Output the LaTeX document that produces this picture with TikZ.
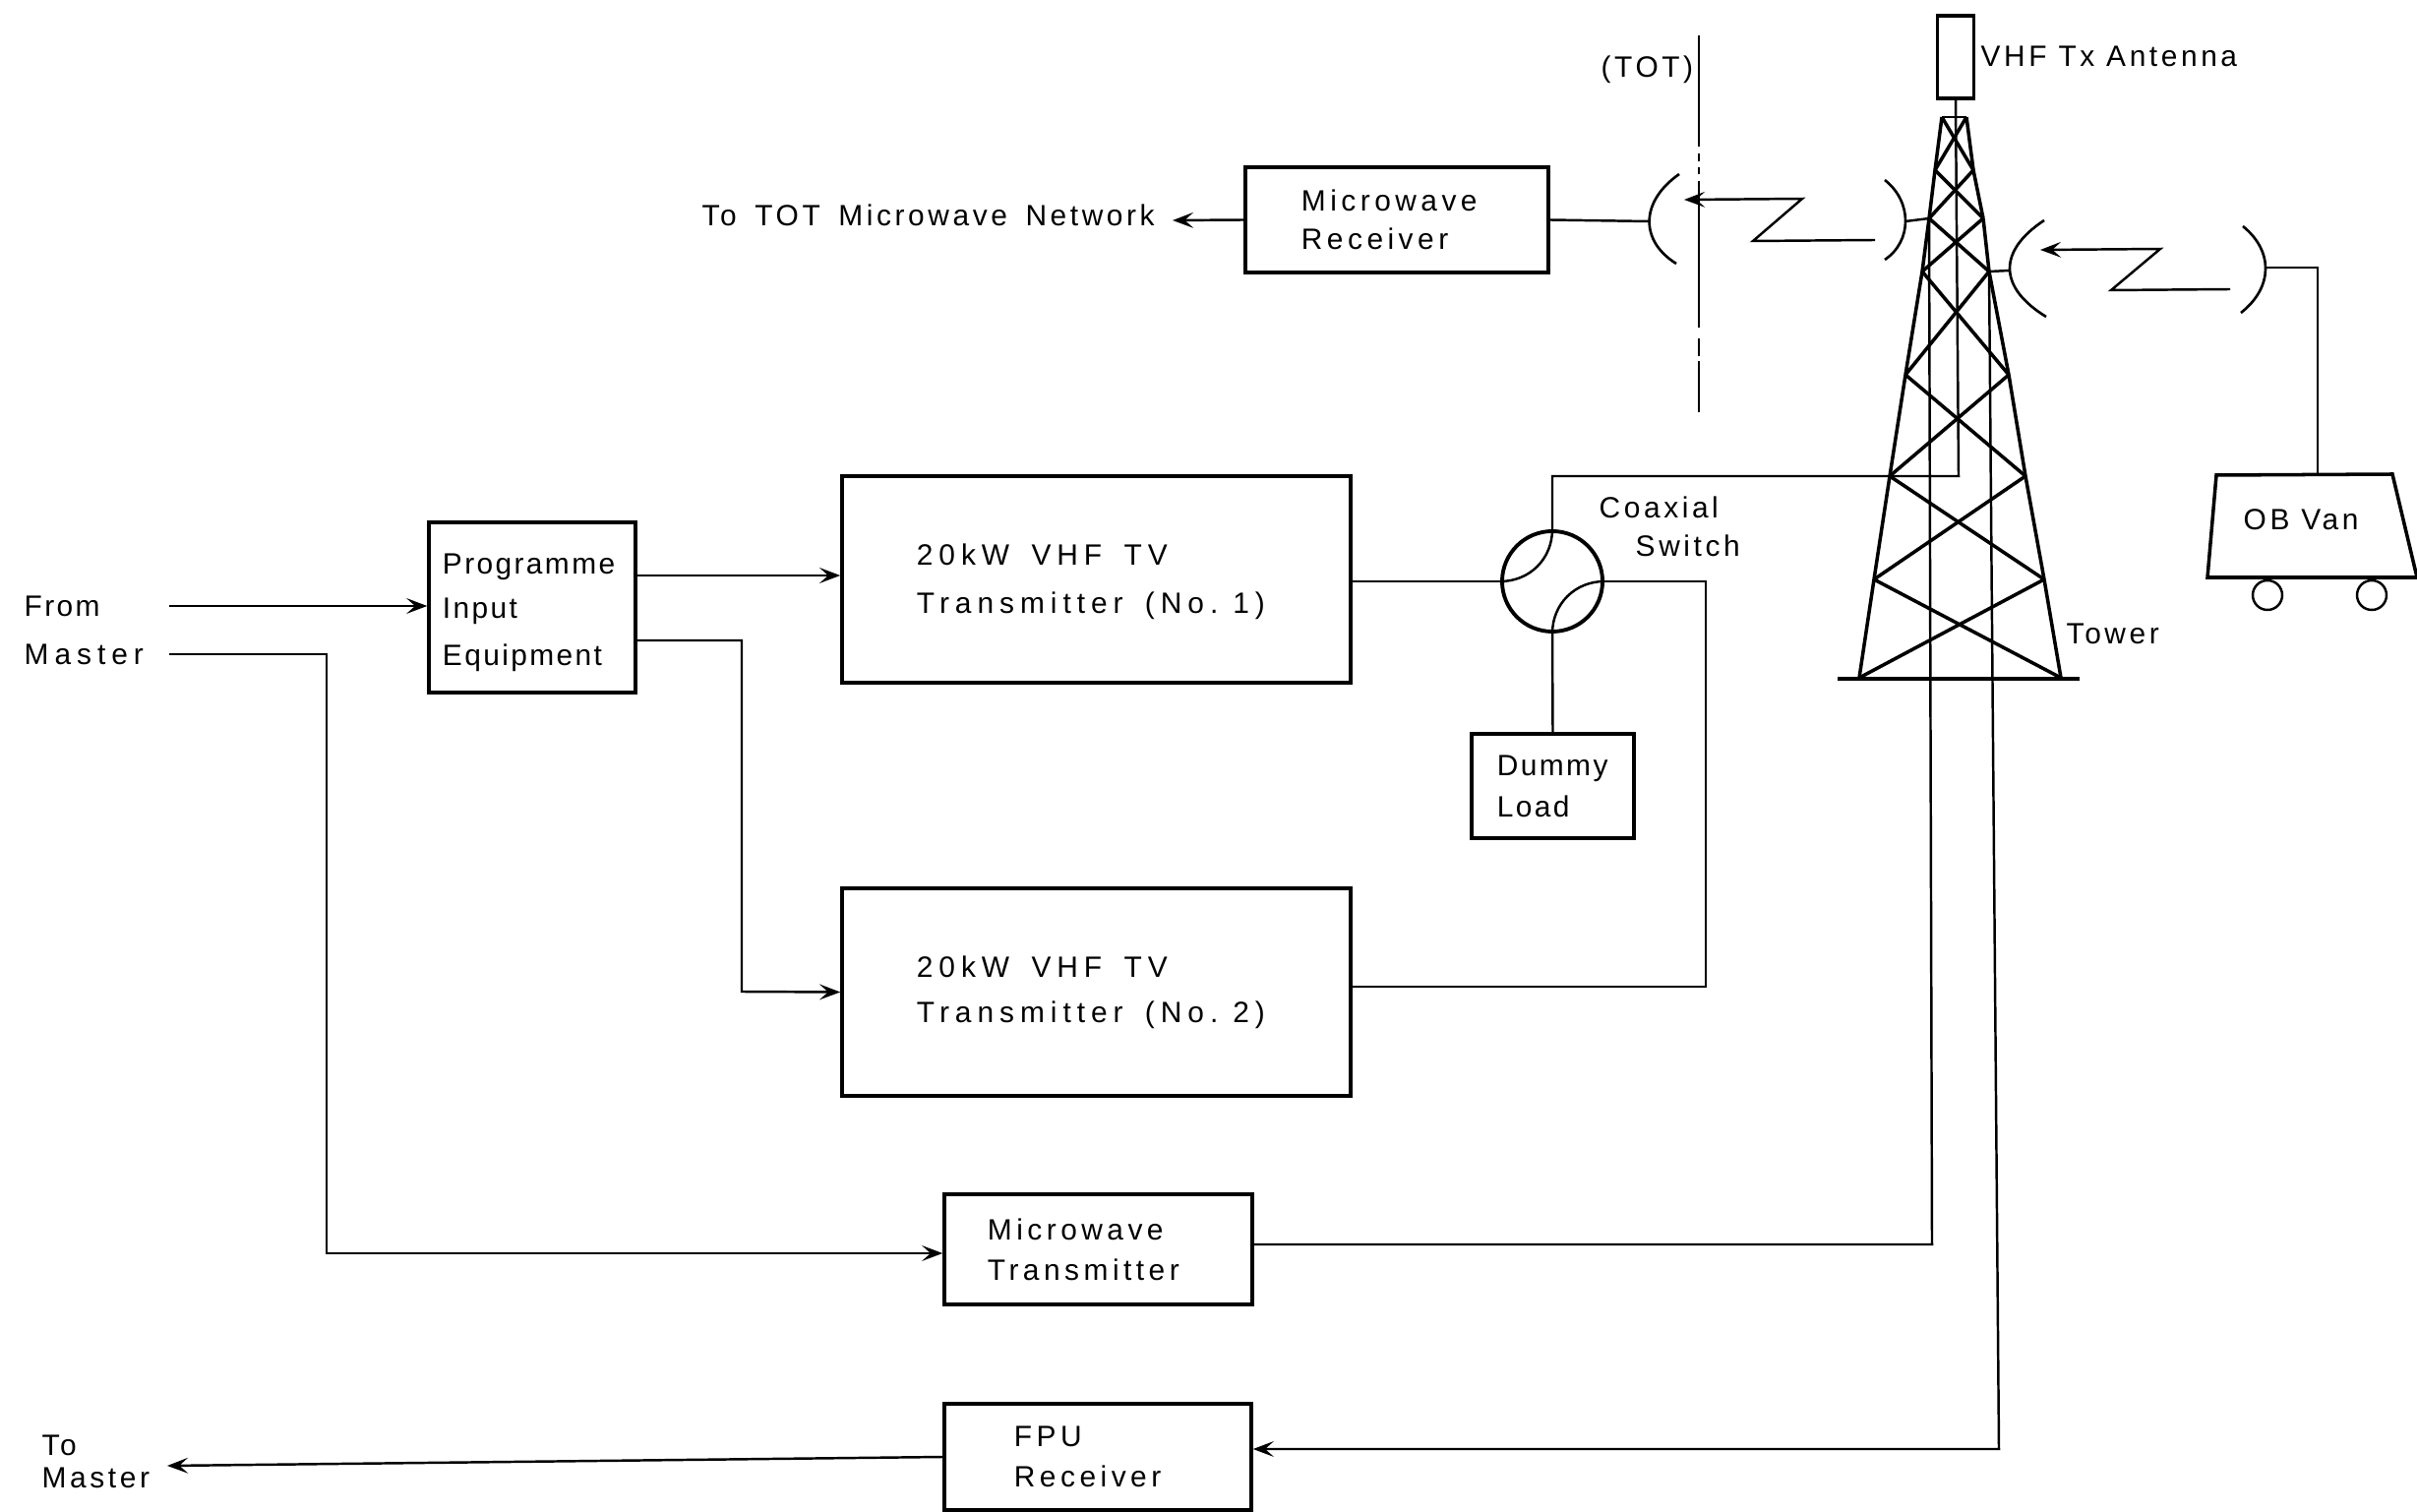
\documentclass[tikz,border=0pt]{standalone}
\usepackage{fontspec}
\setmainfont{Liberation Sans}
\newfontfamily\lblfont[LetterSpace=12]{Liberation Sans}
\newfontfamily\tightfont[LetterSpace=8]{Liberation Sans}
\newfontfamily\boxfont[LetterSpace=15]{Liberation Sans}
\newfontfamily\widefont[LetterSpace=20]{Liberation Sans}
\newcommand{\wgap}{\hspace{3.5pt}}
\newcommand{\ngap}{\hspace{1.9pt}}
\usetikzlibrary{arrows.meta}
\tikzset{
  wire/.style={black,line width=.7pt},
  truss/.style={black,line width=1pt},
  dish/.style={black,line width=.75pt},
  blockbox/.style={draw,black,line width=.95pt,align=left,inner ysep=0pt,font=\fontsize{8.5}{9.4}\boxfont},
  txt/.style={inner sep=0pt,align=left,font=\fontsize{8.5}{9.4}\lblfont}
}
\begin{document}
\begin{tikzpicture}[x=.01cm,y=-.01cm,>={Stealth[length=6pt,width=4.5pt,inset=2.5pt]}]
\useasboundingbox (0,0) rectangle (2457,1537);
% blocks
\node[blockbox,font=\fontsize{8.5}{9.4}\tightfont,text width=1.82cm,inner xsep=.14cm,minimum height=1.73cm] (prog) at (541,617.5) {\rule{0pt}{9pt}Programme\\[3.4pt]Input\\[4.4pt]Equipment};
\node[blockbox,font=\fontsize{8.5}{9.4}\widefont,text width=3.65cm,inner xsep=.76cm,minimum height=2.1cm] (txa) at (1114.5,589) {\rule{0pt}{7.4pt}20kW \wgap VHF \wgap TV\\[4.4pt]Transmitter \wgap (No. 1)};
\node[blockbox,font=\fontsize{8.5}{9.4}\widefont,text width=3.65cm,inner xsep=.76cm,minimum height=2.11cm] (txb) at (1114.5,1008.5) {20kW \wgap VHF \wgap TV\\[3.6pt]Transmitter \wgap (No. 2)};
\node[blockbox,text width=1.94cm,inner xsep=.57cm,minimum height=1.07cm] (mwrx) at (1420,223.5) {Microwave\\[1.8pt]Receiver};
\node[blockbox,text width=2.25cm,inner xsep=.44cm,minimum height=1.12cm] (mwtx) at (1116.5,1270) {Microwave\\[2.3pt]Transmitter};
\node[blockbox,text width=1.70cm,inner xsep=.71cm,minimum height=1.08cm] (fpu) at (1116,1481) {FPU\\[2.3pt]Receiver};
\node[blockbox,font=\fontsize{8.5}{9.4}\tightfont,text width=1.13cm,inner xsep=.26cm,minimum height=1.06cm] (dummy) at (1578.5,799) {Dummy\\[2.6pt]Load};
\node[draw,black,circle,line width=1.1pt,minimum size=1.02cm,inner sep=0pt] (sw) at (1578,591) {};
\node[draw,black,line width=.95pt,minimum width=.37cm,minimum height=.84cm,inner sep=0pt] (ant) at (1988,58) {};
% labels
\node[txt,anchor=west] (from) at (24,641) {{\tightfont From}\\[4.5pt]{\widefont Master}};
\node[txt,anchor=west] (tomas) at (42,1486) {To\\Master};
\node[txt,anchor=west] (totnet) at (713,219) {To \ngap TOT \ngap Microwave \ngap Network};
\node[txt,anchor=west] (tot) at (1627,71) {(TOT)};
\node[txt,anchor=west] (vhf) at (2013,57) {VHF Tx Antenna};
\node[txt,anchor=west] (coax) at (1625,535) {Coaxial\\[1.7pt]\hspace*{.37cm}Switch};
\node[txt,anchor=west] (tower) at (2100,644) {Tower};
\node[txt,anchor=west] (obvan) at (2280,528) {OB Van};
% tower
\foreach \n/\lx/\rx/\ly in {0/1974/1999/119,1/1967/2006/173,2/1961/2016/222,3/1954/2022/276,4/1937/2042/381,5/1921/2059/484,6/1905/2078/589,7/1890/2095/689}{
  \coordinate (L\n) at (\lx,\ly);
  \coordinate (R\n) at (\rx,\ly);
}
\foreach \i/\j in {0/1,1/2,2/3,3/4,4/5,5/6,6/7}{
  \draw[truss] (L\i) -- (L\j);
  \draw[truss] (R\i) -- (R\j);
  \draw[truss] (L\i) -- (R\j);
  \draw[truss] (R\i) -- (L\j);
}
\draw[wire] (L0) -- (R0);
\draw[truss] (1868,690) -- (2114,690);
% free ends and corners
\coordinate (fromend) at (172,616);
\coordinate (masterend) at (172,665);
\coordinate (masterturn) at (332,1274);
\coordinate (progturn) at (754,651);
\coordinate (totend) at (1192,224);
\coordinate (tomasterend) at (170,1490);
\coordinate (swturn) at (1734,1003);
\coordinate (feedturn) at (1991,484);
\coordinate (mwturn) at (1964,1265);
\coordinate (fputurn) at (2032,1473);
% connectors
\draw[wire,->] (fromend) -- (prog.west |- fromend);
\draw[wire,->] (masterend) -- (masterturn |- masterend) -- (masterturn) -- (mwtx.west |- masterturn);
\draw[wire,->] (prog.east |- 0,585) -- (txa.west |- 0,585);
\draw[wire,->] (prog.east |- progturn) -- (progturn) -- (754,1008) -- (txb.west);
\draw[wire] (txa.east |- sw.west) -- (sw.west);
\draw[wire] (sw.east) -- (swturn |- sw.east) -- (swturn) -- (txb.east |- swturn);
\draw[wire] (sw.south) -- (dummy.north);
\draw[wire] (sw.north) .. controls +(0,30) and +(30,0) .. (sw.west);
\draw[wire] (sw.south) .. controls +(0,-30) and +(-30,0) .. (sw.east);
\draw[wire] (ant.south) -- (feedturn) -- (sw.north |- feedturn) -- (sw.north);
\draw[wire] (L2) -- (mwturn) -- (mwtx.east |- mwturn);
\draw[wire,->] (R3) -- (fputurn) -- (fpu.east |- fputurn);
\draw[wire,->] (fpu.west) -- (tomasterend);
\draw[wire,->] (mwrx.west) -- (totend);
% TOT boundary
\foreach \a/\b in {36/149,156/164,170/177,184/333,344/362,367/419}{
  \draw[wire] (1727,\a) -- (1727,\b);
}
% microwave hops
\draw[dish] (1707,177) .. controls (1667,205) and (1667,245) .. (1704,268);
\draw[dish] (1916,183) .. controls (1944,205) and (1944,245) .. (1916,264);
\draw[dish] (2078,224) .. controls (2031,255) and (2031,292) .. (2080,322);
\draw[dish] (2280,230) .. controls (2311,255) and (2311,292) .. (2278,318);
\draw[wire] (mwrx.east) -- (1676,225);
\draw[wire] (1937,225) -- (L2);
\draw[wire] (2043,275) -- (R3);
\draw[wire,->] (1906,244) -- (1782,245) -- (1832,202) -- (1712,203);
\draw[wire,->] (2267,294) -- (2146,295) -- (2196,253) -- (2074,254);
% OB van
\draw[truss] (2253,483) -- (2432,482) -- (2457,587) -- (2244,587) -- cycle;
\draw[wire] (2303,272) -- (2356,272) -- (2356,483);
\draw[wire] (2305,605) circle (15);
\draw[wire] (2411,605) circle (15);
\end{tikzpicture}
\end{document}
